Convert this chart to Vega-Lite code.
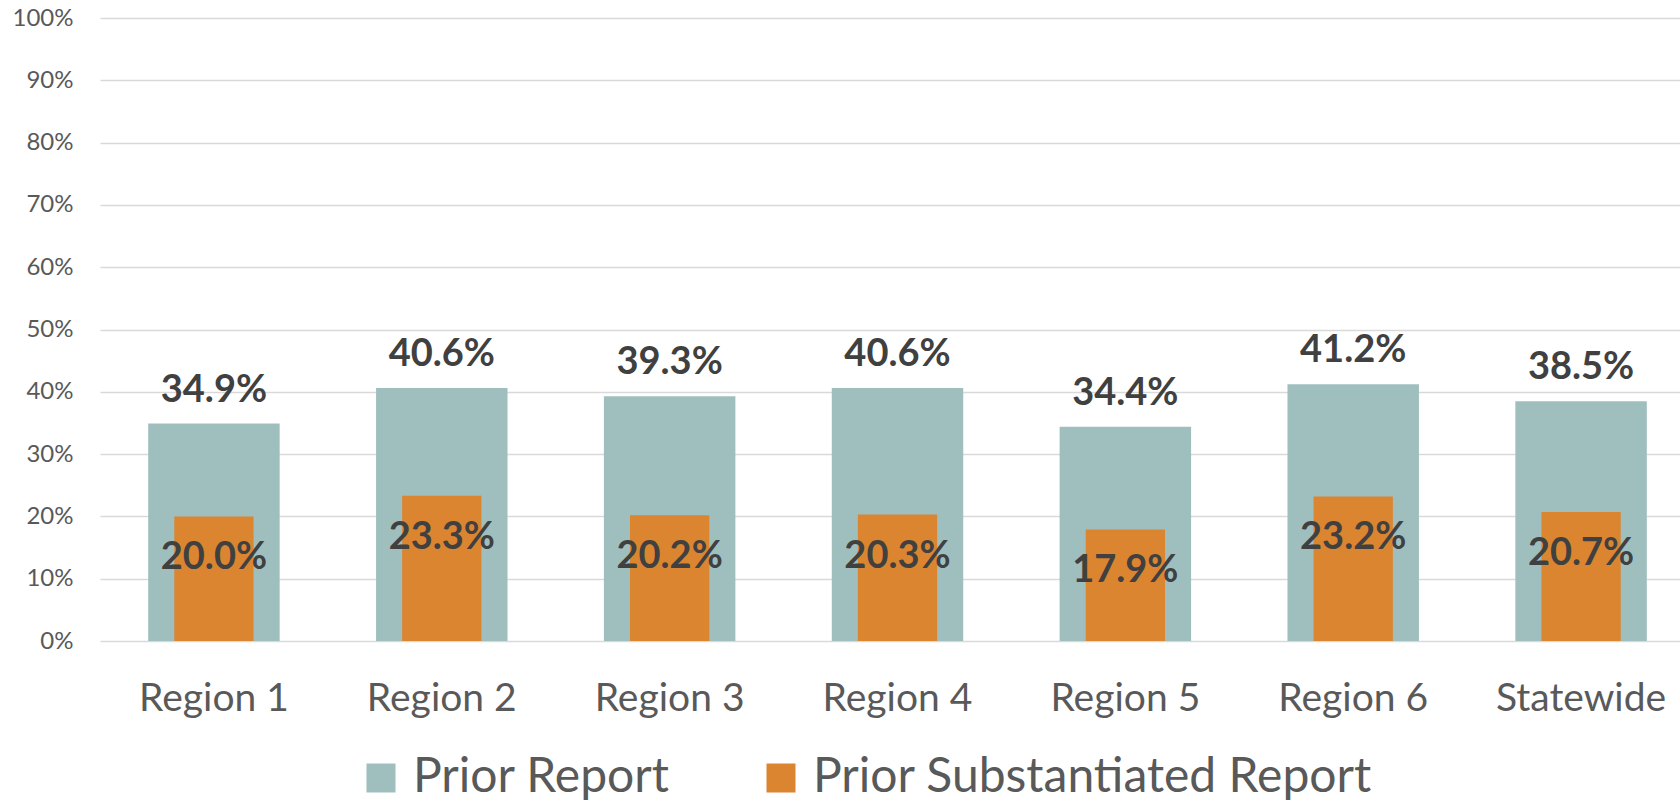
{
  "$schema": "https://vega.github.io/schema/vega-lite/v6.json",
  "autosize": {"type": "none"},
  "padding": {"left": 100, "top": 18, "right": 0, "bottom": 161},
  "width": 1580,
  "height": 623,
  "background": "white",
  "config": {"view": {"stroke": null}, "font": "Lato"},
  "data": {
    "values": [
      {"region": "Region 1", "series": "Prior Report", "value": 0.349},
      {"region": "Region 2", "series": "Prior Report", "value": 0.406},
      {"region": "Region 3", "series": "Prior Report", "value": 0.393},
      {"region": "Region 4", "series": "Prior Report", "value": 0.406},
      {"region": "Region 5", "series": "Prior Report", "value": 0.344},
      {"region": "Region 6", "series": "Prior Report", "value": 0.412},
      {"region": "Statewide", "series": "Prior Report", "value": 0.385},
      {"region": "Region 1", "series": "Prior Substantiated Report", "value": 0.200},
      {"region": "Region 2", "series": "Prior Substantiated Report", "value": 0.233},
      {"region": "Region 3", "series": "Prior Substantiated Report", "value": 0.202},
      {"region": "Region 4", "series": "Prior Substantiated Report", "value": 0.203},
      {"region": "Region 5", "series": "Prior Substantiated Report", "value": 0.179},
      {"region": "Region 6", "series": "Prior Substantiated Report", "value": 0.232},
      {"region": "Statewide", "series": "Prior Substantiated Report", "value": 0.207}
    ]
  },
  "encoding": {
    "x": {
      "field": "region",
      "type": "nominal",
      "sort": ["Region 1", "Region 2", "Region 3", "Region 4", "Region 5", "Region 6", "Statewide"],
      "scale": {"range": [0, 1595], "paddingInner": 0, "paddingOuter": 0},
      "axis": {
        "title": null,
        "labelAngle": 0,
        "labelFontSize": 39,
        "labelColor": "#595959",
        "labelBaseline": "alphabetic",
        "labelPadding": 69,
        "ticks": false,
        "domain": false,
        "grid": false
      }
    },
    "y": {
      "field": "value",
      "type": "quantitative",
      "scale": {"domain": [0, 1], "nice": false},
      "axis": {
        "title": null,
        "format": ".0%",
        "values": [0, 0.1, 0.2, 0.3, 0.4, 0.5, 0.6, 0.7, 0.8, 0.9, 1.0],
        "labelFontSize": 24,
        "labelColor": "#595959",
        "labelPadding": 27,
        "ticks": false,
        "domain": false,
        "grid": true,
        "gridColor": "#d9d9d9",
        "gridWidth": 1.4
      }
    }
  },
  "layer": [
    {
      "transform": [{"filter": "datum.series === 'Prior Report'"}],
      "mark": {"type": "bar", "width": {"band": 0.577}},
      "encoding": {
        "color": {
          "field": "series",
          "type": "nominal",
          "scale": {"domain": ["Prior Report", "Prior Substantiated Report"], "range": ["#9fbfbe", "#db8531"]},
          "legend": {
            "title": null,
            "orient": "none",
            "legendX": 257,
            "legendY": 736,
            "direction": "horizontal",
            "symbolType": "square",
            "symbolSize": 841,
            "symbolStrokeWidth": 0,
            "symbolOpacity": 1,
            "labelFontSize": 48,
            "labelColor": "#595959",
            "labelOffset": 8,
            "labelLimit": 0,
            "columnPadding": 87
          }
        }
      }
    },
    {
      "transform": [{"filter": "datum.series === 'Prior Substantiated Report'"}],
      "mark": {"type": "bar", "width": {"band": 0.348}},
      "encoding": {
        "color": {"field": "series", "type": "nominal"}
      }
    },
    {
      "transform": [{"filter": "datum.series === 'Prior Report'"}],
      "mark": {"type": "text", "baseline": "alphabetic", "dy": -22, "fontSize": 38, "fontWeight": "bold", "color": "#404040"},
      "encoding": {
        "text": {"field": "value", "type": "quantitative", "format": ".1%"}
      }
    },
    {
      "transform": [{"filter": "datum.series === 'Prior Substantiated Report'"}],
      "mark": {"type": "text", "baseline": "alphabetic", "dy": 53, "fontSize": 38, "fontWeight": "bold", "color": "#404040"},
      "encoding": {
        "text": {"field": "value", "type": "quantitative", "format": ".1%"}
      }
    }
  ]
}
